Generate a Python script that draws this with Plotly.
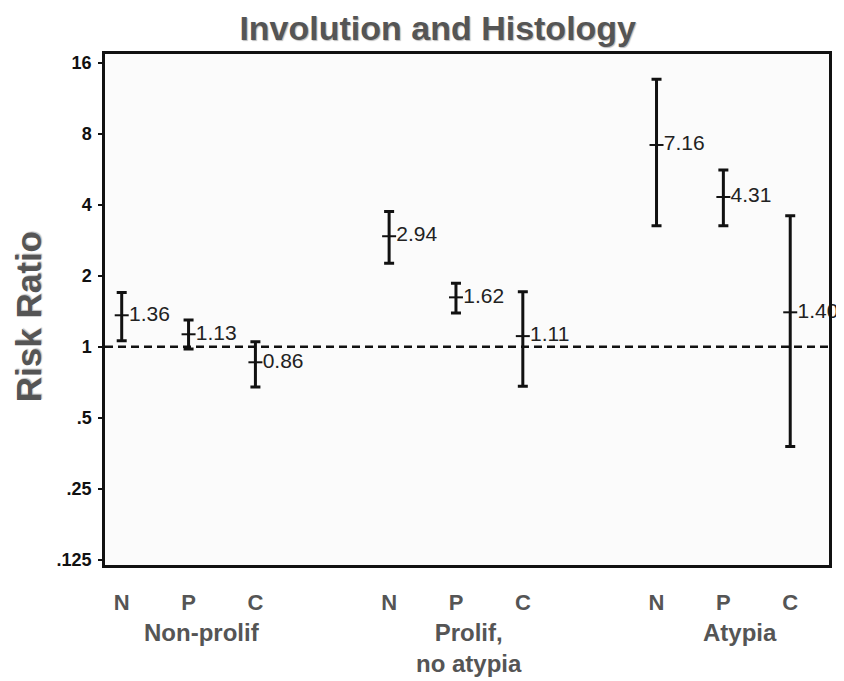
import math
import plotly.graph_objects as go

# ---- data ----
histology_groups = ["Non-prolif", "Prolif,<br>no atypia", "Atypia"]
involution_levels = ["N", "P", "C"]
x_slots = [0, 1, 2, 4, 5, 6, 8, 9, 10]
tick_labels = ["N", "P", "C", "N", "P", "C", "N", "P", "C"]
group_centers = [1.2, 5.2, 9.25]
risk_ratio = [1.36, 1.13, 0.86, 2.94, 1.62, 1.11, 7.16, 4.31, 1.40]
ci_upper = [1.70, 1.30, 1.05, 3.74, 1.86, 1.71, 13.6, 5.61, 3.59]
ci_lower = [1.06, 0.98, 0.675, 2.26, 1.39, 0.68, 3.26, 3.26, 0.378]
y_tickvals = [0.125, 0.25, 0.5, 1, 2, 4, 8, 16]
y_ticktext = [".125", ".25", ".5", "1", "2", "4", "8", "16"]

FONT = "Arial, Liberation Sans, sans-serif"

fig = go.Figure()

fig.add_trace(go.Scatter(
    x=x_slots,
    y=risk_ratio,
    mode="markers+text",
    text=[f"{v:.2f}" for v in risk_ratio],
    textposition="middle right",
    textfont=dict(family=FONT, size=21, color="#222"),
    marker=dict(symbol="line-ew", size=10, line=dict(width=2, color="#111"), color="#111"),
    error_y=dict(
        type="data",
        symmetric=False,
        array=[u - v for u, v in zip(ci_upper, risk_ratio)],
        arrayminus=[v - l for v, l in zip(risk_ratio, ci_lower)],
        color="#111",
        thickness=3,
        width=5,
    ),
    showlegend=False,
    cliponaxis=False,
))

# reference line at RR = 1
fig.add_shape(type="line", xref="paper", yref="y", x0=0, x1=1, y0=1, y1=1,
              line=dict(color="#111", width=2.5, dash="8px,5px"), layer="below")

for gx, gname in zip(group_centers, histology_groups):
    fig.add_annotation(x=gx, y=0, xref="x", yref="paper", yshift=-52,
                       text=f"<b>{gname}</b>", showarrow=False, yanchor="top",
                       font=dict(family=FONT, size=24, color="#555"))

# y-axis title as annotation for precise placement
fig.add_annotation(x=0, y=0.485, xref="paper", yref="paper", xshift=-77,
                   text="<b>Risk Ratio</b>", textangle=-90, showarrow=False,
                   xanchor="center", yanchor="middle",
                   font=dict(family=FONT, size=35, color="#555",
                             shadow="1px 1px 1px #bbb"))

lo = math.log10(2 ** -3.07)
hi = math.log10(2 ** 4.12)

# page body has an 8px margin, so the figure is sized/offset to compensate
fig.update_layout(
    width=836, height=673,
    margin=dict(l=97, r=15, t=46, b=116),
    paper_bgcolor="white",
    plot_bgcolor="#fbfbfb",
    title=dict(text="<b>Involution and Histology</b>", x=0.514, xanchor="center",
               y=0.970, yanchor="middle",
               font=dict(family=FONT, size=34, color="#555",
                         shadow="1px 1px 1px #bbb")),
    xaxis=dict(
        range=[-0.25, 10.58],
        tickvals=x_slots, ticktext=[f"<b>{t}</b>" for t in tick_labels],
        tickfont=dict(family=FONT, size=22, color="#555"),
        showgrid=False, zeroline=False,
        showline=True, linecolor="#111", linewidth=2.5, mirror=True,
        ticks="", ticklabelstandoff=16,
    ),
    yaxis=dict(
        type="log", range=[lo, hi],
        tickvals=y_tickvals, ticktext=[f"<b>{t}</b>" for t in y_ticktext],
        tickfont=dict(family=FONT, size=18, color="#111"),
        showgrid=False, zeroline=False,
        showline=True, linecolor="#111", linewidth=2.5, mirror=True,
        ticks="outside", ticklen=4, tickwidth=2, tickcolor="#111",
        ticklabelstandoff=3,
    ),
)

fig.write_html("out.html")
